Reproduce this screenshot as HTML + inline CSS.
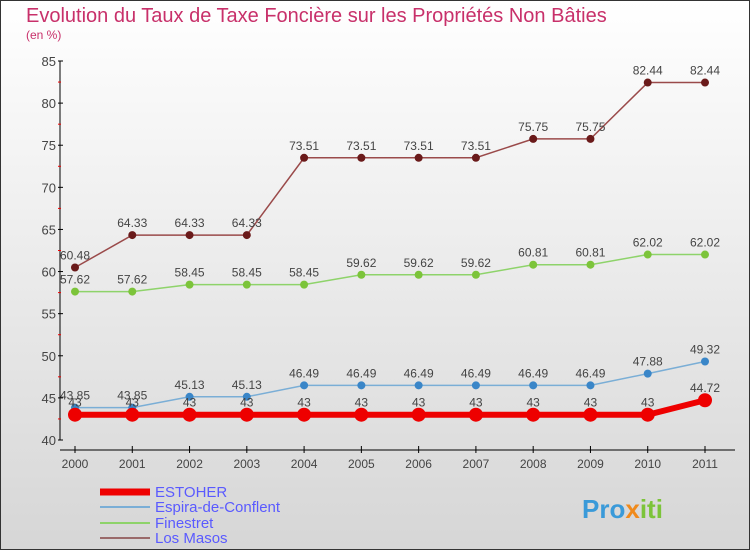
<!DOCTYPE html>
<html><head><meta charset="utf-8"><style>
html,body{margin:0;padding:0}
body{width:750px;height:550px;overflow:hidden;font-family:"Liberation Sans",sans-serif}
</style></head><body>
<svg id="c" width="750" height="550" xmlns="http://www.w3.org/2000/svg">
<defs><linearGradient id="bg" x1="0" y1="0" x2="0" y2="1"><stop offset="0" stop-color="#ffffff"/><stop offset="1" stop-color="#d6d6d6"/></linearGradient></defs>
<rect x="0.5" y="0.5" width="749" height="549" fill="url(#bg)" stroke="#333"/>
<text x="26" y="22" font-size="20" fill="#c8306a">Evolution du Taux de Taxe Foncière sur les Propriétés Non Bâties</text>
<text x="26" y="39" font-size="12" fill="#c8306a">(en %)</text>
<g id="axes"></g><g id="series"></g>
<g>
<line x1="100" y1="492" x2="150" y2="492" stroke="#e00" stroke-width="7"/>
<text x="155" y="497" font-size="15" fill="#5a5aff">ESTOHER</text>
<line x1="100" y1="507" x2="150" y2="507" stroke="#7aaed6" stroke-width="2"/>
<text x="155" y="512" font-size="15" fill="#5a5aff">Espira-de-Conflent</text>
<line x1="100" y1="523" x2="150" y2="523" stroke="#8ed36a" stroke-width="2"/>
<text x="155" y="528" font-size="15" fill="#5a5aff">Finestret</text>
<line x1="100" y1="538" x2="150" y2="538" stroke="#9a6a6a" stroke-width="2"/>
<text x="155" y="543" font-size="15" fill="#5a5aff">Los Masos</text>
</g>
<text x="582" y="518" font-size="26" font-weight="bold" fill="#3a9ad9">Pro<tspan fill="#f08a1c">x</tspan><tspan fill="#7cc43a">iti</tspan></text>
</svg>
<script>
const years=[2000,2001,2002,2003,2004,2005,2006,2007,2008,2009,2010,2011];
const estoher=[43,43,43,43,43,43,43,43,43,43,43,44.72];
const espira=[43.85,43.85,45.13,45.13,46.49,46.49,46.49,46.49,46.49,46.49,47.88,49.32];
const finestret=[57.62,57.62,58.45,58.45,58.45,59.62,59.62,59.62,60.81,60.81,62.02,62.02];
const losMasos=[60.48,64.33,64.33,64.33,73.51,73.51,73.51,73.51,75.75,75.75,82.44,82.44];
const yTicks=[40,45,50,55,60,65,70,75,80,85];
const NS="http://www.w3.org/2000/svg";
const x=i=>75+(705-75)*i/(years.length-1);
const y=v=>440-(v-40)*(440-61)/45;
function mk(t,a,p){const e=document.createElementNS(NS,t);for(const k in a)e.setAttribute(k,a[k]);p.appendChild(e);return e;}
const ax=document.getElementById('axes');
let e=mk('line',{x1:60,y1:61,x2:60,y2:440,stroke:'#000'},ax);


e=mk('line',{x1:60,y1:450,x2:735,y2:450,stroke:'#000'},ax);


yTicks.forEach((v,i)=>{mk('line',{x1:58,y1:y(v),x2:63,y2:y(v),stroke:'#000'},ax);
 if(i<yTicks.length-1)mk('line',{x1:58,y1:y(v+2.5),x2:61,y2:y(v+2.5),stroke:'#e00'},ax);
 const t=mk('text',{x:56,y:y(v)+5,'font-size':13,fill:'#444','text-anchor':'end'},ax);t.textContent=v;
 
 });
years.forEach((yr,i)=>{mk('line',{x1:x(i),y1:446,x2:x(i),y2:453,stroke:'#000'},ax);
 const t=mk('text',{x:x(i),y:468,'font-size':12,fill:'#444','text-anchor':'middle'},ax);t.textContent=yr;
 
 });
const sg=document.getElementById('series');
function draw(vals,name,col,dot,w,r,fmt){
 const g=mk('g',{},sg);
 
 
 const l=mk('polyline',{points:vals.map((v,i)=>x(i)+','+y(v)).join(' '),fill:'none',stroke:col,'stroke-width':w},g);
 
 
 vals.forEach((v,i)=>{const c=mk('circle',{cx:x(i),cy:y(v),r:r,fill:dot},g);
  
  
  const t=mk('text',{x:x(i),y:y(v)-8,'font-size':12,fill:'#444','text-anchor':'middle'},g);t.textContent=String(v);
  
  });
}
draw(losMasos,'los-masos','#9a4a4a','#6a1a1a',1.5,4);
draw(finestret,'finestret','#8ed36a','#7cc43a',1.5,4);
draw(espira,'espira-de-conflent','#7aaed6','#3a86c8',1.5,4);
draw(estoher,'estoher','#e00','#e00',6,7);
</script>
</body></html>
